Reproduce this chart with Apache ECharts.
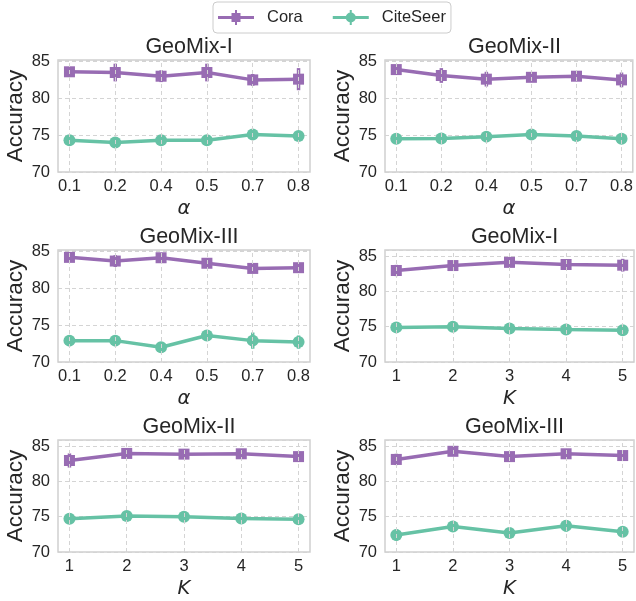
<!DOCTYPE html>
<html>
<head>
<meta charset="utf-8">
<script src="https://cdn.jsdelivr.net/npm/echarts@6/dist/echarts.min.js"></script>
<style>html,body{margin:0;padding:0;background:#fff}#c{width:636px;height:601px}</style>
</head>
<body>
<div id="c"></div>
<script>
// ---- data ----
var alphaLabels = ['0.1','0.2','0.4','0.5','0.7','0.8'];
var kLabels = ['1','2','3','4','5'];
var panelTitles = ['GeoMix-I','GeoMix-II','GeoMix-III','GeoMix-I','GeoMix-II','GeoMix-III'];
var seriesNames = ['Cora','CiteSeer'];

var coraA1 = [83.6, 83.5, 83.0, 83.5, 82.5, 82.6];
var coraA1Err = [0.4, 1.2, 0.8, 1.2, 0.8, 1.5];
var citeA1 = [74.3, 74.0, 74.3, 74.3, 75.1, 74.9];
var citeA1Err = [0.3, 0.5, 0.3, 0.3, 0.3, 0.3];

var coraA2 = [83.9, 83.1, 82.6, 82.85, 83.0, 82.5];
var coraA2Err = [0.3, 1.0, 1.0, 0.4, 0.6, 1.0];
var citeA2 = [74.5, 74.55, 74.8, 75.1, 74.9, 74.5];
var citeA2Err = [0.3, 0.3, 0.3, 0.3, 0.3, 0.3];

var coraA3 = [84.2, 83.7, 84.15, 83.4, 82.7, 82.8];
var coraA3Err = [0.4, 0.8, 0.3, 0.5, 0.3, 0.4];
var citeA3 = [72.9, 72.9, 72.0, 73.6, 72.9, 72.7];
var citeA3Err = [0.7, 0.6, 0.3, 0.6, 1.1, 0.9];

var coraK1 = [82.95, 83.65, 84.1, 83.8, 83.7];
var coraK1Err = [0.8, 0.4, 0.3, 0.4, 0.9];
var citeK1 = [74.9, 75.0, 74.75, 74.6, 74.5];
var citeK1Err = [0.3, 0.3, 0.3, 0.3, 0.3];

var coraK2 = [82.95, 83.95, 83.85, 83.9, 83.5];
var coraK2Err = [1.0, 0.4, 0.4, 0.5, 0.6];
var citeK2 = [74.7, 75.1, 75.0, 74.75, 74.65];
var citeK2Err = [0.3, 0.3, 0.3, 0.3, 0.3];

var coraK3 = [83.1, 84.25, 83.5, 83.9, 83.65];
var coraK3Err = [0.8, 0.5, 0.3, 0.4, 0.3];
var citeK3 = [72.4, 73.6, 72.7, 73.7, 72.85];
var citeK3Err = [0.8, 0.5, 0.6, 0.8, 0.6];

var yTicks = [70, 75, 80, 85];
var yMaxes = [85.2, 85.2, 85.2, 85.85, 85.85, 85.85];

// ---- layout / style ----
var PURPLE = '#986cb3';
var GREEN = '#66c2a5';
var GRIDC = '#d4d4d4';
var FONT = '"Liberation Sans", Arial, sans-serif';
var ICON_SQUARE = 'path://M0,6L36,6L36,9L0,9Z M13.5,3L22.5,3L22.5,12L13.5,12Z M17,0L19,0L19,15L17,15Z';
var ICON_CIRCLE = 'path://M0,6L36,6L36,9L0,9Z M13,7.5A5,5 0 1 1 23,7.5A5,5 0 1 1 13,7.5Z M17,0L19,0L19,15L17,15Z';

var panels = [
  {labels: alphaLabels, xname: 'α', cora: coraA1, coraErr: coraA1Err, cite: citeA1, citeErr: citeA1Err},
  {labels: alphaLabels, xname: 'α', cora: coraA2, coraErr: coraA2Err, cite: citeA2, citeErr: citeA2Err},
  {labels: alphaLabels, xname: 'α', cora: coraA3, coraErr: coraA3Err, cite: citeA3, citeErr: citeA3Err},
  {labels: kLabels, xname: 'K', cora: coraK1, coraErr: coraK1Err, cite: citeK1, citeErr: citeK1Err},
  {labels: kLabels, xname: 'K', cora: coraK2, coraErr: coraK2Err, cite: citeK2, citeErr: citeK2Err},
  {labels: kLabels, xname: 'K', cora: coraK3, coraErr: coraK3Err, cite: citeK3, citeErr: citeK3Err}
];

var lefts = [58, 385];
var widths = [252, 249];
var tops = [60, 250, 440];
var H = 112;

var grids = [], xAxes = [], yAxes = [], series = [], titles = [];

function errSeries(name, idx, vals, errs, color) {
  return {
    type: 'custom', name: name + ' err', xAxisIndex: idx, yAxisIndex: idx, z: 3, silent: true,
    data: vals.map(function (v, i) { return [i, v, errs[i]]; }),
    renderItem: function (params, api) {
      var x = api.value(0), v = api.value(1), e = api.value(2);
      var p1 = api.coord([x, v - e]);
      var p2 = api.coord([x, v + e]);
      return {type: 'line', shape: {x1: p1[0], y1: p1[1], x2: p2[0], y2: p2[1]},
              style: {stroke: color, lineWidth: 3.5}};
    }
  };
}

panels.forEach(function (p, idx) {
  var col = idx % 2, row = Math.floor(idx / 2);
  var L = lefts[col], W = widths[col], T = tops[row];
  grids.push({left: L, top: T, width: W, height: H, show: true, borderColor: '#cfcfcf', borderWidth: 1.5, containLabel: false});
  var n = p.labels.length;
  var idxs = p.labels.map(function (_, i) { return i; });
  var pad = (n - 1) * 0.05;
  xAxes.push({
    type: 'value', gridIndex: idx, min: -pad, max: (n - 1) + pad,
    axisLine: {show: false}, axisTick: {show: false}, splitLine: {show: false},
    axisLabel: {customValues: idxs, formatter: function (v) { return p.labels[Math.round(v)]; },
                fontSize: 16.5, color: '#262626', fontFamily: FONT, margin: 6},
    name: p.xname, nameLocation: 'middle', nameGap: 27,
    nameTextStyle: {fontSize: 19.5, fontStyle: 'italic', fontFamily: '"DejaVu Sans", sans-serif', color: '#262626'}
  });
  yAxes.push({
    type: 'value', gridIndex: idx, min: 70, max: yMaxes[idx], interval: 5,
    axisLine: {show: false}, axisTick: {show: false},
    splitLine: {show: true, lineStyle: {type: [4, 3], color: GRIDC, width: 1}},
    axisLabel: {customValues: yTicks, fontSize: 16.5, color: '#262626', fontFamily: FONT, margin: 8},
    name: 'Accuracy', nameLocation: 'middle', nameGap: 30,
    nameTextStyle: {fontSize: 22.5, fontFamily: FONT, color: '#262626'}
  });
  titles.push({text: panelTitles[idx], left: L + W / 2, top: T - 29, textAlign: 'center',
    textStyle: {fontSize: 21.5, fontWeight: 'normal', fontFamily: FONT, color: '#262626'}});

  // vertical dashed grid lines through x tick positions
  series.push({
    type: 'line', name: 'xgrid', xAxisIndex: idx, yAxisIndex: idx, z: 1, silent: true,
    data: idxs.map(function (i) { return [i, 70]; }), symbol: 'none', lineStyle: {opacity: 0},
    markLine: {silent: true, symbol: 'none', label: {show: false},
      lineStyle: {type: [4, 3], color: GRIDC, width: 1},
      data: idxs.map(function (i) { return {xAxis: i}; })}
  });
  series.push(errSeries('Cora', idx, p.cora, p.coraErr, PURPLE));
  series.push(errSeries('CiteSeer', idx, p.cite, p.citeErr, GREEN));
  series.push({
    type: 'line', name: seriesNames[0], xAxisIndex: idx, yAxisIndex: idx, z: 4,
    data: p.cora.map(function (v, i) { return [i, v]; }),
    symbol: 'rect', symbolSize: 11, itemStyle: {color: PURPLE}, lineStyle: {color: PURPLE, width: 3.5}
  });
  series.push({
    type: 'line', name: seriesNames[1], xAxisIndex: idx, yAxisIndex: idx, z: 4,
    data: p.cite.map(function (v, i) { return [i, v]; }),
    symbol: 'circle', symbolSize: 12, itemStyle: {color: GREEN}, lineStyle: {color: GREEN, width: 3.5}
  });
});

var chart = echarts.init(document.getElementById('c'), null, {renderer: 'canvas'});
chart.setOption({
  animation: false,
  backgroundColor: '#ffffff',
  title: titles,
  legend: {
    data: [{name: seriesNames[0], icon: ICON_SQUARE}, {name: seriesNames[1], icon: ICON_CIRCLE}],
    top: 2, left: 213, itemWidth: 36, itemHeight: 15, itemGap: 30,
    borderColor: '#cccccc', borderWidth: 1, borderRadius: 4, padding: [7, 5, 7, 5],
    textStyle: {fontSize: 16.5, fontFamily: FONT, color: '#262626', padding: [0, 0, 0, 8]}
  },
  grid: grids, xAxis: xAxes, yAxis: yAxes, series: series
});
</script>
</body>
</html>
